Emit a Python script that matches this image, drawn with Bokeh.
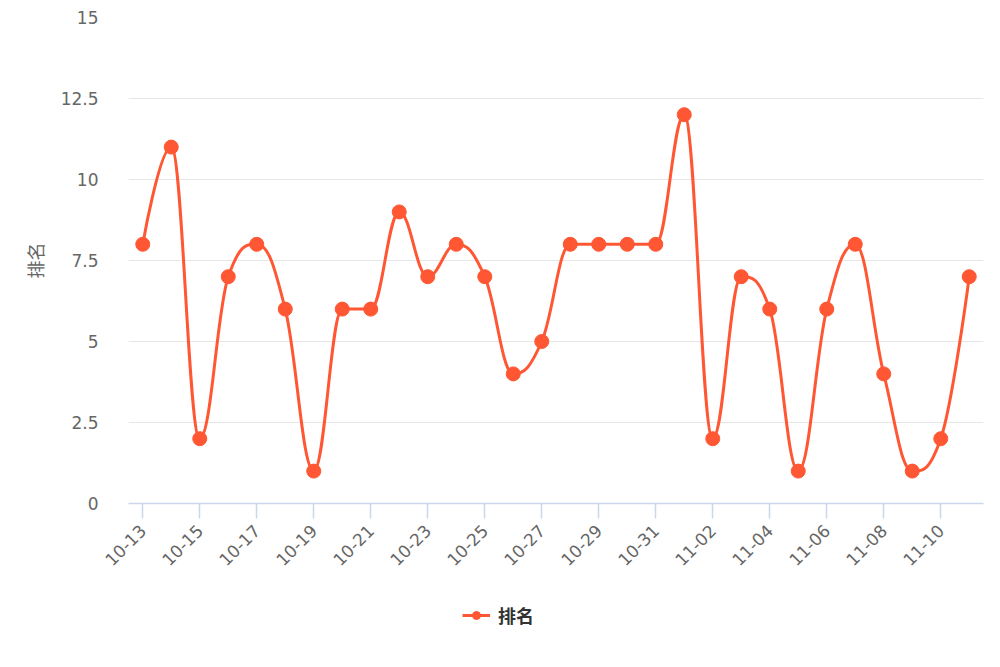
from bokeh.plotting import figure
from bokeh.layouts import column
from bokeh.models import FixedTicker, Legend, LegendItem, ColumnDataSource
from bokeh.embed import file_html
from bokeh.resources import INLINE
import math

dates = ["10-13", "10-14", "10-15", "10-16", "10-17", "10-18", "10-19", "10-20",
         "10-21", "10-22", "10-23", "10-24", "10-25", "10-26", "10-27", "10-28",
         "10-29", "10-30", "10-31", "11-01", "11-02", "11-03", "11-04", "11-05",
         "11-06", "11-07", "11-08", "11-09", "11-10", "11-11"]
rank = [8, 11, 2, 7, 8, 6, 1, 6, 6, 9, 7, 8, 7, 4, 5, 8, 8, 8, 8, 12, 2, 7, 6, 1,
        6, 8, 4, 1, 2, 7]
y_ticks = [0, 2.5, 5, 7.5, 10, 12.5, 15]
y_tick_labels = ["0", "2.5", "5", "7.5", "10", "12.5", "15"]
series_name = "排名"

COLOR = "#ff5733"
xs = list(range(len(rank)))
n = len(rank)

# Highcharts-style spline control points (smoothing 1.5)
sm = 1.5
den = sm + 1
lc = [None] * n
rc = [None] * n
for i in range(n):
    px, py = xs[i], rank[i]
    if 0 < i < n - 1:
        lx, ly = xs[i - 1], rank[i - 1]
        nx, ny = xs[i + 1], rank[i + 1]
        lcx = (sm * px + lx) / den
        lcy = (sm * py + ly) / den
        rcx = (sm * px + nx) / den
        rcy = (sm * py + ny) / den
        corr = ((rcy - lcy) * (rcx - px)) / (rcx - lcx) + py - rcy
        lcy += corr
        rcy += corr
        if lcy > ly and lcy > py:
            lcy = max(ly, py); rcy = 2 * py - lcy
        elif lcy < ly and lcy < py:
            lcy = min(ly, py); rcy = 2 * py - lcy
        if rcy > ny and rcy > py:
            rcy = max(ny, py); lcy = 2 * py - rcy
        elif rcy < ny and rcy < py:
            rcy = min(ny, py); lcy = 2 * py - rcy
        lc[i] = (lcx, lcy)
        rc[i] = (rcx, rcy)
    else:
        lc[i] = (px, py)
        rc[i] = (px, py)

seg = dict(x0=[], y0=[], x1=[], y1=[], cx0=[], cy0=[], cx1=[], cy1=[])
for i in range(1, n):
    seg["x0"].append(xs[i - 1]); seg["y0"].append(rank[i - 1])
    seg["x1"].append(xs[i]); seg["y1"].append(rank[i])
    seg["cx0"].append(rc[i - 1][0]); seg["cy0"].append(rc[i - 1][1])
    seg["cx1"].append(lc[i][0]); seg["cy1"].append(lc[i][1])

p = figure(frame_width=855, frame_height=486, output_backend="svg",
           toolbar_location=None,
           x_range=(-0.5, n - 0.5), y_range=(0, 15),
           min_border_left=128, min_border_right=1, min_border_top=17,
           min_border_bottom=40)
p.outline_line_color = None
p.background_fill_color = "white"
p.border_fill_color = "white"

br = p.bezier(x0="x0", y0="y0", x1="x1", y1="y1", cx0="cx0", cy0="cy0",
              cx1="cx1", cy1="cy1", source=ColumnDataSource(seg),
              line_color=COLOR, line_width=3)
sr = p.scatter(xs, rank, size=14, fill_color=COLOR, line_color=COLOR)

# axes
p.xgrid.grid_line_color = None
p.ygrid.grid_line_color = "#e6e6e6"
p.ygrid.grid_line_width = 1

p.xaxis.ticker = FixedTicker(ticks=list(range(0, n, 2)))
p.xaxis.major_label_overrides = {i: dates[i] for i in range(n)}
p.xaxis.major_label_orientation = math.pi / 4
p.xaxis.axis_line_color = "#ccd6eb"
p.xaxis.axis_line_width = 1.5
p.xaxis.major_tick_line_color = "#ccd6eb"
p.xaxis.major_tick_line_width = 1.5
p.xaxis.major_tick_out = 15
p.xaxis.major_tick_in = 0
p.xaxis.minor_tick_line_color = None
p.xaxis.major_label_standoff = 9
p.xaxis.major_label_text_font = "DejaVu Sans"
p.xaxis.major_label_text_font_size = "17px"
p.xaxis.major_label_text_color = "#666666"

p.yaxis.ticker = FixedTicker(ticks=y_ticks)
p.yaxis.major_label_overrides = {t: l for t, l in zip(y_ticks, y_tick_labels)}
p.yaxis.axis_line_color = None
p.yaxis.major_tick_line_color = None
p.yaxis.minor_tick_line_color = None
p.yaxis.major_label_standoff = 24
p.yaxis.major_label_text_font = "DejaVu Sans"
p.yaxis.major_label_text_font_size = "17px"
p.yaxis.major_label_text_color = "#666666"
p.yaxis.axis_label = series_name
p.yaxis.axis_label_text_font = "Noto Sans CJK SC"
p.yaxis.axis_label_text_font_size = "18px"
p.yaxis.axis_label_text_font_style = "normal"
p.yaxis.axis_label_text_color = "#666666"
p.yaxis.axis_label_standoff = 10

# legend strip below the chart; its renderers use the same series but sit
# outside this strip's range, so only their legend swatches are seen
p2 = figure(width=984, height=80, output_backend="svg", toolbar_location=None,
            x_axis_type=None, y_axis_type=None, x_range=(-0.5, n - 0.5),
            y_range=(-101, -100), min_border=0)
p2.outline_line_color = None
p2.xgrid.grid_line_color = None
p2.ygrid.grid_line_color = None
lr = p2.line(xs, rank, line_color=COLOR, line_width=3)
mr = p2.scatter(xs, rank, size=14, fill_color=COLOR, line_color=COLOR)

legend = Legend(items=[LegendItem(label=series_name, renderers=[lr, mr])],
                location=(334, 26), orientation="horizontal",
                padding=0, margin=0, spacing=0,
                border_line_color=None, background_fill_alpha=0,
                glyph_width=28, glyph_height=20, label_standoff=8,
                label_text_font="Noto Sans CJK SC", label_text_font_size="18px",
                label_text_font_style="bold", label_text_color="#333333")
p2.add_layout(legend, "center")

layout = column(p, p2, spacing=0)
open("out.html", "w").write(file_html(layout, INLINE))
